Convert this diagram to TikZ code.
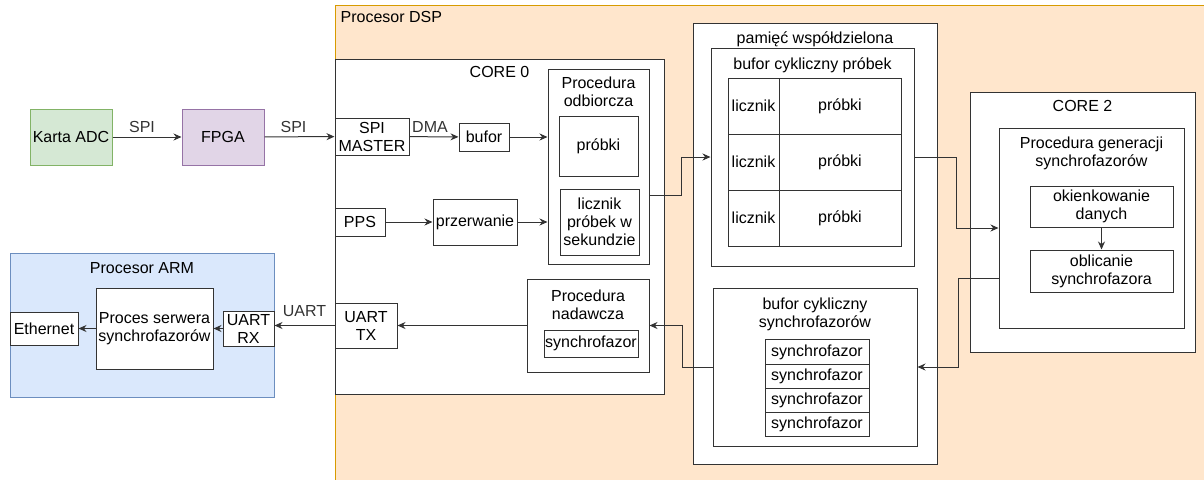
\documentclass[tikz,border=0pt]{standalone}
\usepackage{fontspec}
\setmainfont{Liberation Sans}
\usetikzlibrary{positioning,arrows.meta,calc}
\definecolor{dspfill}{HTML}{FFE6CC}
\definecolor{dspline}{HTML}{D79B00}
\definecolor{armfill}{HTML}{DAE8FC}
\definecolor{armline}{HTML}{6C8EBF}
\definecolor{adcfill}{HTML}{D5E8D4}
\definecolor{adcline}{HTML}{82B366}
\definecolor{fpgafill}{HTML}{E1D5E7}
\definecolor{fpgaline}{HTML}{9673A6}
\definecolor{linia}{HTML}{333333}
\tikzset{
  blok/.style={draw=linia,fill=white,line width=1pt,inner sep=0pt,
               align=center,font=\fontsize{16}{18}\selectfont},
  wh/.style 2 args={minimum width=#1pt,minimum height=#2pt},
  tytul/.style={inner sep=0pt,align=center,anchor=north,
                font=\fontsize{16}{18}\selectfont},
  lbl/.style={inner sep=0pt,font=\fontsize{16}{18}\selectfont},
  arr/.style={-{Stealth[length=8pt,width=7pt]},line width=1pt,linia},
}

\begin{document}
\begin{tikzpicture}[x=1pt,y=-1pt]
  \useasboundingbox (0,0) rectangle (1204,479);
  % procesor DSP i ARM
  \node[blok,draw=dspline,fill=dspfill,wh={875}{480}] (dsp) at (772.5,245) {};
  \node[lbl,anchor=north west] (dspt) at ([xshift=6pt,yshift=-7pt]dsp.north west) {Procesor DSP};
  \node[blok,draw=armline,fill=armfill,wh={264}{144}] (arm) at (142,325) {};
  \node[tytul] (armt) at ([yshift=-10pt]arm.north) {Procesor ARM};
  \node[blok,draw=adcline,fill=adcfill,wh={82}{56}] (adc) at (71,137) {Karta ADC};
  \node[blok,draw=fpgaline,fill=fpgafill,wh={82}{56}] (fpga) at (223,137) {FPGA};
  % CORE 0
  \node[blok,wh={329}{335}] (core0) at (499.5,226.5) {};
  \node[tytul] (core0t) at ([yshift=-8pt]core0.north) {CORE 0};
  \node[blok,wh={74}{37}] (spim) at (372,136.5) {SPI\\MASTER};
  \node[blok,wh={50}{28}] (bufor) at (484,137) {bufor};
  \node[blok,wh={50}{28}] (pps) at (360,222) {PPS};
  \node[blok,wh={84}{46}] (przer) at (475,222) {przerwanie};
  \node[blok,wh={101}{195}] (podb) at (598.5,166.5) {};
  \node[tytul] (podbt) at ([yshift=-8pt]podb.north) {Procedura\\odbiorcza};
  \node[blok,wh={79}{60}] (pprob) at (598.5,146) {próbki};
  \node[blok,wh={79}{66}] (plicz) at (599.5,222) {licznik\\próbek w\\sekundzie};
  \node[blok,wh={122}{93}] (pnad) at (588,325.5) {};
  \node[tytul] (pnadt) at ([yshift=-11pt]pnad.north) {Procedura\\nadawcza};
  \node[blok,wh={94}{27}] (psyn) at (591,343.5) {synchrofazor};
  \node[blok,wh={62}{45}] (uarttx) at (366,325.5) {UART\\TX};
  % ARM
  \node[blok,wh={51}{35}] (uartrx) at (248.5,328.5) {UART\\RX};
  \node[blok,wh={117}{81}] (proces) at (154.5,328.5) {Proces serwera\\synchrofazorów};
  \node[blok,wh={68}{33}] (eth) at (44,328.5) {Ethernet};
  % pamiec wspoldzielona
  \node[blok,wh={244}{441}] (pam) at (815,243.5) {};
  \node[tytul] (pamt) at ([yshift=-9pt]pam.north) {pamięć współdzielona};
  \node[blok,wh={203}{218}] (bprob) at (812.5,157) {};
  \node[tytul] (bprobt) at ([yshift=-10pt]bprob.north) {bufor cykliczny próbek};
  \foreach \i/\y in {1/106,2/162,3/218} {
    \node[blok,wh={51}{56}] (l\i) at (753.5,\y) {licznik};
    \node[blok,wh={122}{56}] (p\i) at (840,\y) {próbki};
  }
  \node[blok,wh={204}{158}] (bsyn) at (815,367) {};
  \node[tytul] (bsynt) at ([yshift=-10pt]bsyn.north) {bufor cykliczny\\synchrofazorów};
  \foreach \i/\y in {1/352,2/376.25,3/400.5,4/424.75}
    \node[blok,wh={104}{24.25}] (s\i) at (817,\y) {synchrofazor};
  % CORE 2
  \node[blok,wh={225}{260}] (core2) at (1082.5,222) {};
  \node[tytul] (core2t) at ([yshift=-9pt]core2.north) {CORE 2};
  \node[blok,wh={185}{200}] (pgen) at (1091.5,228) {};
  \node[tytul] (pgent) at ([yshift=-9pt]pgen.north) {Procedura generacji\\synchrofazorów};
  \node[blok,wh={143}{41}] (okno) at (1101.5,206.5) {okienkowanie\\danych};
  \node[blok,wh={143}{42}] (obl) at (1101.5,271) {oblicanie\\synchrofazora};
  % polaczenia
  \draw[arr] (adc) -- (fpga) node[lbl,midway,above=4pt,xshift=-5pt] {SPI};
  \draw[arr] (fpga) -- (spim) node[lbl,midway,above=4pt,xshift=-6pt] {SPI};
  \draw[arr] (spim) -- (bufor) node[lbl,midway,above=4pt,xshift=-4pt] {DMA};
  \draw[arr] (bufor.east) -- (bufor.east -| podb.west);
  \draw[arr] (pps) -- (przer);
  \draw[arr] (przer.east) -- (przer.east -| podb.west);
  \draw[arr] ([yshift=-28.5pt]podb.east) -- ++(32,0) |- (bprob.west);
  \draw[arr] (bprob.east) -- ++(42,0) |- (pgen.west);
  \draw[arr] (okno) -- (obl);
  \draw[arr] ([yshift=-50pt]pgen.west) -- ++(-40,0) |- (bsyn.east);
  \draw[arr] (bsyn.west) -- ++(-30,0) |- (pnad.east);
  \draw[arr] (pnad.west) -- (pnad.west -| uarttx.east);
  \draw[arr] (uarttx.west) -- (uarttx.west -| uartrx.east) node[lbl,midway,above=8pt] {UART};
  \draw[arr] (uartrx) -- (proces);
  \draw[arr] (proces) -- (eth);
\end{tikzpicture}
\end{document}
